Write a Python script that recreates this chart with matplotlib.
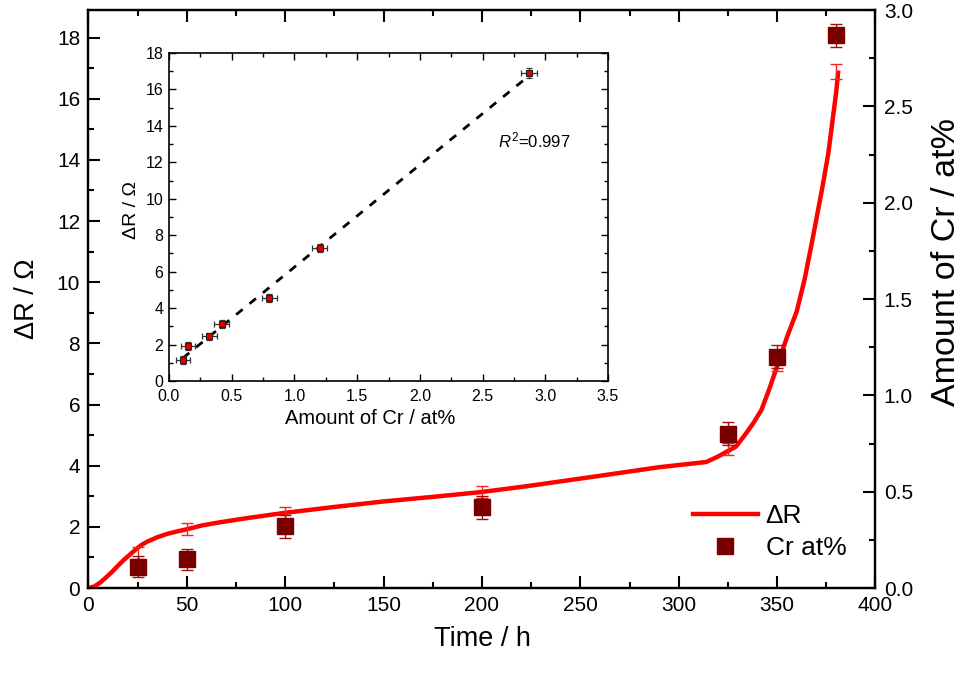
import numpy as np
import matplotlib
matplotlib.use('Agg')
import matplotlib.pyplot as plt
from matplotlib.ticker import MultipleLocator

plt.rcParams['font.family'] = ['Liberation Sans', 'DejaVu Sans']
plt.rcParams['mathtext.fontset'] = 'custom'
plt.rcParams['mathtext.rm'] = 'Liberation Sans'
plt.rcParams['mathtext.it'] = 'Liberation Sans:italic'

# resistance change vs. exposure time (continuous trace)
time_h = [0, 3, 6, 9, 12, 15, 18, 21, 24, 27, 30, 35, 40, 45, 50, 58, 67, 80,
          100, 125, 150, 175, 200, 224, 260, 290, 314, 320, 325, 329, 333, 338,
          342, 346, 350, 355, 360, 364, 368, 373, 376, 378, 380, 381]
delta_r = [0, 0.05, 0.18, 0.35, 0.53, 0.73, 0.92, 1.09, 1.26, 1.41, 1.52, 1.66,
           1.77, 1.85, 1.92, 2.05, 2.15, 2.28, 2.46, 2.65, 2.83, 2.98, 3.14,
           3.34, 3.67, 3.95, 4.12, 4.3, 4.48, 4.62, 4.95, 5.4, 5.82, 6.5, 7.25,
           8.2, 9.05, 10.1, 11.4, 13.1, 14.2, 15.2, 16.2, 16.85]

# sampled points: Cr content and dR at the sampling times
t_samp = [25, 50, 100, 200, 325, 350, 380]
cr_at = [0.11, 0.15, 0.32, 0.42, 0.80, 1.20, 2.87]
cr_err = [0.055, 0.055, 0.06, 0.06, 0.06, 0.06, 0.06]
dr_samp = [1.15, 1.92, 2.46, 3.13, 4.55, 7.3, 16.9]
dr_err = [0.2, 0.2, 0.2, 0.2, 0.2, 0.2, 0.25]

fig = plt.figure(figsize=(9.69, 6.73), dpi=100)
ax = fig.add_axes([0.0913, 0.1263, 0.8122, 0.8588])
ax2 = ax.twinx()

line, = ax.plot(time_h, delta_r, color='#ff0000', lw=3.2, zorder=3,
                label='ΔR', solid_joinstyle='round')
ax.errorbar(t_samp, dr_samp, yerr=dr_err, fmt='none', ecolor='#ff2020',
            elinewidth=1.0, capsize=4.5, capthick=1.0, zorder=4)

ax2.errorbar(t_samp, cr_at, yerr=cr_err, fmt='none', ecolor='#a01010',
             elinewidth=1.0, capsize=4.5, capthick=1.0, zorder=2)
pts, = ax2.plot(t_samp, cr_at, 's', color='#7a0000', ms=11, ls='none',
                zorder=3, label='Cr at%')

ax.set_xlim(0, 400)
ax.set_ylim(0, 18.9)
ax2.set_ylim(0, 3.0)

ax.xaxis.set_major_locator(MultipleLocator(50))
ax.xaxis.set_minor_locator(MultipleLocator(25))
ax.yaxis.set_major_locator(MultipleLocator(2))
ax.yaxis.set_minor_locator(MultipleLocator(1))
ax2.yaxis.set_major_locator(MultipleLocator(0.5))
ax2.yaxis.set_minor_locator(MultipleLocator(0.25))
ax2.yaxis.set_major_formatter(plt.FormatStrFormatter('%.1f'))

ax.tick_params(which='both', direction='in', top=True, right=False, width=1.5)
ax.tick_params(which='major', length=8.5, labelsize=15, pad=6)
ax.tick_params(which='minor', length=4)
ax2.tick_params(which='both', direction='in', width=1.5)
ax2.tick_params(which='major', length=8.5, labelsize=15, pad=6)
ax2.tick_params(which='minor', length=4)
for a in (ax, ax2):
    for s in a.spines.values():
        s.set_linewidth(1.6)

ax.set_xlabel('Time / h', fontsize=19.5, labelpad=8)
ax.set_ylabel('ΔR / Ω', fontsize=19.5, labelpad=12)
ax2.set_ylabel('Amount of Cr / at%', fontsize=24.5, labelpad=13)
ax2.yaxis.label.set_y(0.564)

fig.legend(handles=[line, pts], loc='upper left',
           bbox_to_anchor=(693 / 969, 1 - 504 / 673), frameon=False,
           fontsize=19, handlelength=2.45, handletextpad=0.3,
           labelspacing=0.3, borderpad=0, borderaxespad=0)

# inset: dR against Cr content with linear fit
ins = fig.add_axes([0.1744, 0.4339, 0.4531, 0.4874])
ins.errorbar(cr_at, dr_samp, xerr=cr_err, yerr=dr_err, fmt='none',
             ecolor='#333333', elinewidth=0.9, capsize=2.5, capthick=0.9, zorder=2)
ins.plot(cr_at, dr_samp, 's', ms=4, mfc='#dd0000', mec='#222222', mew=0.8,
         ls='none', zorder=3)
slope, icpt = np.polyfit(cr_at, dr_samp, 1)
xf = np.array([min(cr_at), max(cr_at)])
ins.plot(xf, slope * xf + icpt, color='black', lw=2, ls=(0, (3, 3.2)), zorder=1)
ins.text(2.62, 12.8, r'$R^2$=0.997', fontsize=12)

ins.set_xlim(0, 3.5)
ins.set_ylim(0, 18)
ins.xaxis.set_major_locator(MultipleLocator(0.5))
ins.xaxis.set_minor_locator(MultipleLocator(0.25))
ins.yaxis.set_major_locator(MultipleLocator(2))
ins.yaxis.set_minor_locator(MultipleLocator(1))
ins.xaxis.set_major_formatter(plt.FormatStrFormatter('%.1f'))
ins.tick_params(which='both', direction='in', top=True, right=True, width=1.0)
ins.tick_params(which='major', length=5, labelsize=11.5, pad=4)
ins.tick_params(axis='x', which='major', pad=5.5)
ins.tick_params(which='minor', length=3)
for s in ins.spines.values():
    s.set_linewidth(1.2)
ins.set_xlabel('Amount of Cr / at%', fontsize=14.5, labelpad=4)
ins.xaxis.label.set_x(0.458)
ins.set_ylabel('ΔR / Ω', fontsize=14, labelpad=4)
ins.yaxis.label.set_y(0.52)

fig.savefig('out.png', dpi=100)
